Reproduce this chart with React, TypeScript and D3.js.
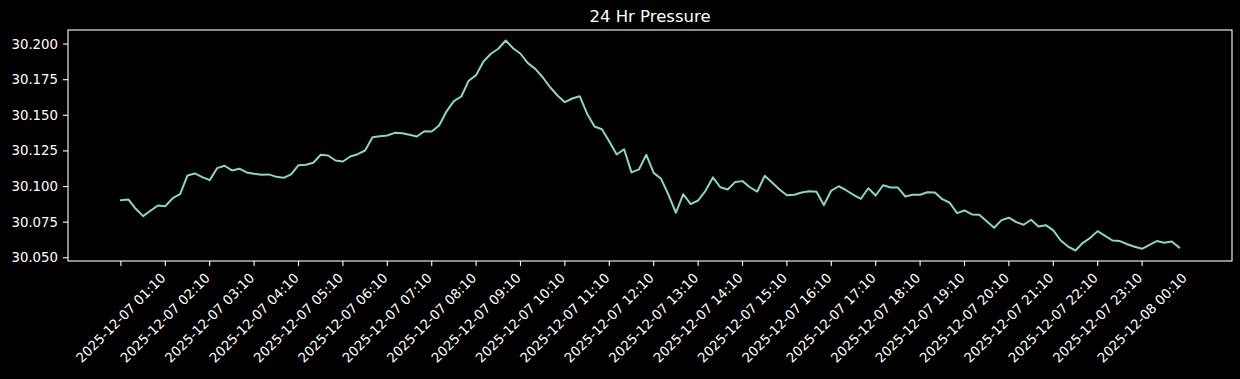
import React from "react";
import * as d3 from "d3";

// ---- data ----
const title = "24 Hr Pressure";
const startTime = new Date(2025, 11, 7, 1, 10); // first reading
const stepMinutes = 10;
const pressure: number[] = [
  30.0904, 30.0909, 30.0844, 30.0792, 30.083, 30.0867, 30.0862, 30.0918, 30.0946, 30.1078,
  30.1092, 30.1066, 30.1045, 30.1129, 30.1146, 30.1113, 30.1125, 30.1099, 30.1089, 30.1082,
  30.1085, 30.1068, 30.1061, 30.1085, 30.115, 30.1153, 30.1167, 30.1223, 30.1218, 30.1183,
  30.1176, 30.1211, 30.1227, 30.1253, 30.1346, 30.1353, 30.1358, 30.1377, 30.1374, 30.1363,
  30.1351, 30.1388, 30.1386, 30.1428, 30.1527, 30.1599, 30.1632, 30.1743, 30.1782, 30.1878,
  30.1932, 30.1967, 30.2025, 30.1971, 30.1932, 30.1866, 30.1826, 30.1767, 30.1697, 30.1639,
  30.1592, 30.1618, 30.1634, 30.1511, 30.1421, 30.1402, 30.1316, 30.1225, 30.1262, 30.1099,
  30.112, 30.1223, 30.1096, 30.1054, 30.0942, 30.0816, 30.0946, 30.0876, 30.0902, 30.097,
  30.1064, 30.0995, 30.0979, 30.1031, 30.1038, 30.0995, 30.0965, 30.1075, 30.1028, 30.0979,
  30.0939, 30.0942, 30.0958, 30.0967, 30.0963, 30.087, 30.0972, 30.1002, 30.0974, 30.0942,
  30.0914, 30.0988, 30.0937, 30.1009, 30.0993, 30.0993, 30.093, 30.0942, 30.0942, 30.096,
  30.0958, 30.0911, 30.0886, 30.0813, 30.0832, 30.0804, 30.0802, 30.0757, 30.0711, 30.0764,
  30.0781, 30.075, 30.0732, 30.0767, 30.072, 30.0729, 30.0692, 30.0621, 30.0579, 30.0551,
  30.0605, 30.064, 30.0687, 30.0654, 30.0621, 30.0617, 30.0595, 30.0577, 30.0563, 30.0591,
  30.0617, 30.0605, 30.0614, 30.0572,
];
const yTickValues: number[] = [30.05, 30.075, 30.1, 30.125, 30.15, 30.175, 30.2];
const xTickLabels: string[] = [
  "2025-12-07 01:10", "2025-12-07 02:10", "2025-12-07 03:10", "2025-12-07 04:10",
  "2025-12-07 05:10", "2025-12-07 06:10", "2025-12-07 07:10", "2025-12-07 08:10",
  "2025-12-07 09:10", "2025-12-07 10:10", "2025-12-07 11:10", "2025-12-07 12:10",
  "2025-12-07 13:10", "2025-12-07 14:10", "2025-12-07 15:10", "2025-12-07 16:10",
  "2025-12-07 17:10", "2025-12-07 18:10", "2025-12-07 19:10", "2025-12-07 20:10",
  "2025-12-07 21:10", "2025-12-07 22:10", "2025-12-07 23:10", "2025-12-08 00:10",
];

const W = 1240;
const H = 379;
const M = { left: 68, right: 1232, top: 30, bottom: 261 };
const FONT = "'DejaVu Sans', sans-serif";
const LINE = "#8dd3c7";
const FG = "#ffffff";

const parseTick = d3.timeParse("%Y-%m-%d %H:%M");

export default function App() {
  const times = pressure.map((_, i) => d3.timeMinute.offset(startTime, i * stepMinutes));
  const t0 = +times[0];
  const t1 = +times[times.length - 1];
  const tSpan = t1 - t0;
  const x = d3
    .scaleTime()
    .domain([new Date(t0 - 0.05 * tSpan), new Date(t1 + 0.05 * tSpan)])
    .range([M.left, M.right]);
  const [vMin, vMax] = d3.extent(pressure) as [number, number];
  const r = vMax - vMin;
  const y = d3
    .scaleLinear()
    .domain([vMin - 0.05 * r, vMax + 0.05 * r])
    .range([M.bottom, M.top]);

  const line = d3
    .line<number>()
    .x((_, i) => x(times[i]))
    .y((d) => y(d));

  const fmtY = d3.format(".3f");
  const tickLen = 5;
  const labelOffset = 47;

  return (
    <svg
      width={W}
      height={H}
      style={{ position: "absolute", left: 0, top: 0, background: "#000" }}
      fontFamily={FONT}
    >
      <rect x={0} y={0} width={W} height={H} fill="#000" />
      <text
        x={(M.left + M.right) / 2}
        y={M.top - 8.5}
        fill={FG}
        fontSize={16.5}
        textAnchor="middle"
      >
        {title}
      </text>
      <path d={line(pressure) || ""} fill="none" stroke={LINE} strokeWidth={2} strokeLinejoin="round" strokeLinecap="square" />
      <rect
        x={M.left}
        y={M.top}
        width={M.right - M.left}
        height={M.bottom - M.top}
        fill="none"
        stroke={FG}
        strokeWidth={1.1}
      />
      {yTickValues.map((v) => (
        <g key={v} transform={`translate(0,${y(v)})`}>
          <line x1={M.left - tickLen} x2={M.left} stroke={FG} strokeWidth={1.1} />
          <text
            x={M.left - tickLen - 5}
            fill={FG}
            fontSize={13.3}
            textAnchor="end"
            dominantBaseline="central"
          >
            {fmtY(v)}
          </text>
        </g>
      ))}
      {xTickLabels.map((lab) => {
        const tx = x(parseTick(lab) as Date);
        const cy = M.bottom + tickLen + 5 + labelOffset;
        return (
          <g key={lab}>
            <line x1={tx} x2={tx} y1={M.bottom} y2={M.bottom + tickLen} stroke={FG} strokeWidth={1.1} />
            <text
              x={tx}
              y={cy}
              fill={FG}
              fontSize={13.3}
              textAnchor="middle"
              dominantBaseline="central"
              transform={`rotate(-45,${tx},${cy})`}
            >
              {lab}
            </text>
          </g>
        );
      })}
    </svg>
  );
}
